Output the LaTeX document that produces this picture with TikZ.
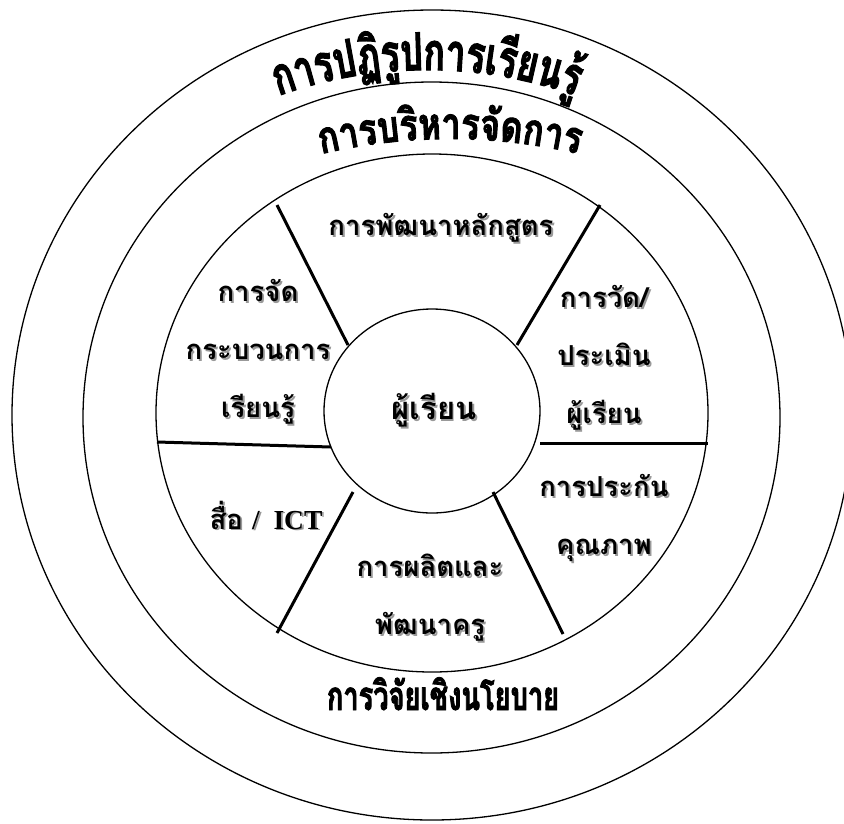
\documentclass[tikz,border=0pt]{standalone}
\usepackage{fontspec}
\usepackage{tikz}
\usetikzlibrary{decorations.text}

\newfontfamily\thaifont[Script=Thai]{Loma}
\newfontfamily\archfont[Script=Thai,FakeStretch=0.68,FakeBold=2]{Loma}
\newfontfamily\archwidefont[Script=Thai,FakeStretch=0.78,FakeBold=2]{Loma}
\newfontfamily\ictfont{Liberation Serif}

% text of a segment, with its grey shadow
\newcommand{\segtext}[3]{%
  \node[segshadow] at (#2) {#3};
  \node[segtext] (#1) at (#2) {#3};}

\begin{document}
\begin{tikzpicture}[
    x=1pt, y=-1pt,
    ring/.style={draw=black, line width=1.3pt},
    spoke/.style={draw=black, line width=3pt},
    segtext/.style={font=\thaifont\bfseries\fontsize{27.5}{58}\selectfont, align=center, text=black, inner sep=0pt},
    segshadow/.style={segtext, text=black!40, xshift=1.8pt, yshift=-1.8pt},
    ringtext/.style={font=\archfont\bfseries\fontsize{40}{44}\selectfont, text=black, inner sep=0pt}
]
\useasboundingbox[fill=white] (0,0) rectangle (844,823);

% Rings
\draw[ring] (432,415) ellipse [x radius=420pt, y radius=405pt];
\draw[ring] (431.5,417.5) ellipse [x radius=348.5pt, y radius=335.5pt];
\draw[ring] (432,413) ellipse [x radius=276pt, y radius=259pt];
\draw[ring] (432,411) ellipse [x radius=108pt, y radius=102pt];

% Spokes
\coordinate (ul-in) at (348,345);  \coordinate (ul-out) at (277,205);
\coordinate (ur-in) at (517,345);  \coordinate (ur-out) at (600,205);
\coordinate (l-in) at (331,447);   \coordinate (l-out) at (157,442);
\coordinate (r-in) at (540,443);   \coordinate (r-out) at (708,443);
\coordinate (ll-in) at (353,492);  \coordinate (ll-out) at (277,633);
\coordinate (lr-in) at (493,492);  \coordinate (lr-out) at (563,634);
\draw[spoke] (ul-in) -- (ul-out);
\draw[spoke] (ur-in) -- (ur-out);
\draw[spoke] (l-in) -- (l-out);
\draw[spoke] (r-in) -- (r-out);
\draw[spoke] (ll-in) -- (ll-out);
\draw[spoke] (lr-in) -- (lr-out);

% Ring texts
\path[decorate, decoration={text along path, text align=center,
    text={|\archfont\bfseries\fontsize{52}{56}\selectfont|การป{ฏิ}{รู}ปการเ{รี}ยน{รู้}}}]
    (193.8,136.9) arc[start angle=122, end angle=58, radius=440pt];
\path[decorate, decoration={text along path, text align=center,
    text={|\archwidefont\bfseries\fontsize{44}{48}\selectfont|การบ{ริ}หาร{จั}ดการ}}]
    (204.5,195.7) arc[start angle=116, end angle=64, radius=560pt];
\node[ringtext, anchor=base] (policy) at (443,710) {การวิจัยเชิงนโยบาย};

% Segments
\segtext{learner}{434,410}{\fontsize{31}{58}\selectfont ผู้เรียน}
\segtext{curr}{441,228}{การพัฒนาหลักสูตร}
\segtext{proc}{258,352}{การจัด\\กระบวนการ\\เรียนรู้}
\segtext{eval}{604,358}{การวัด/\\ประเมิน\\ผู้เรียน}
\segtext{qa}{604,518}{การประกัน\\คุณภาพ}
\segtext{media}{266,515}{สื่อ {\ictfont/ \ ICT}}
\segtext{teacher}{430,598}{การผลิตและ\\พัฒนาครู}

\end{tikzpicture}
\end{document}
